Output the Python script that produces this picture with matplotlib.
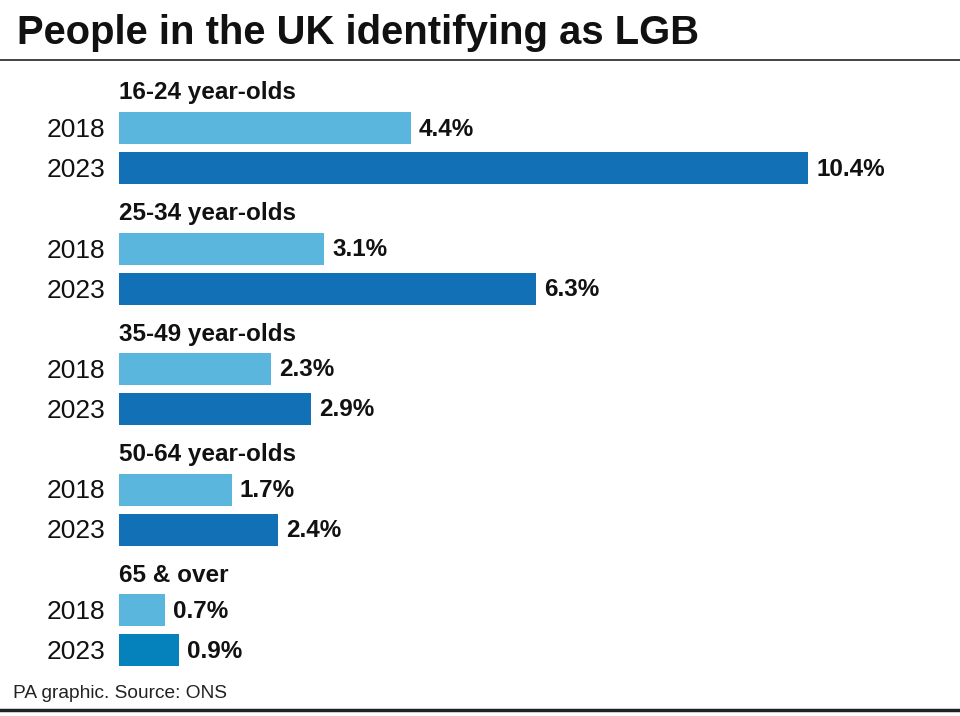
import matplotlib
matplotlib.use("Agg")
import matplotlib.pyplot as plt
from matplotlib.lines import Line2D

groups = ["16-24 year-olds", "25-34 year-olds", "35-49 year-olds", "50-64 year-olds", "65 & over"]
years = ["2018", "2023"]
values_2018 = [4.4, 3.1, 2.3, 1.7, 0.7]
values_2023 = [10.4, 6.3, 2.9, 2.4, 0.9]

c2018 = "#5BB6DE"
c2023 = "#1271B6"
c2023_last = "#0581BC"

plt.rcParams['font.family'] = ['Liberation Sans', 'DejaVu Sans']

W, H = 960, 716
fig = plt.figure(figsize=(W / 100, H / 100), dpi=100)

x0 = 119
scale = 66.25  # px per percent
ax = fig.add_axes([x0 / W, 0, (W - x0) / W, 1])
ax.set_xlim(0, (W - x0) / scale)
ax.set_ylim(H, 0)
ax.axis("off")

step = 120.5
bar_h = 32
for g, name in enumerate(groups):
    base = g * step
    y18 = 128 + base
    y23 = 168 + base
    col23 = c2023_last if g == len(groups) - 1 else c2023
    ax.barh(y18, values_2018[g], height=bar_h, color=c2018)
    ax.barh(y23, values_2023[g], height=bar_h, color=col23)
    ax.text(0, 93 + base, name, fontsize=17.5, fontweight="bold", va="center", ha="left", color="#111111")
    for y, v, yr in [(y18, values_2018[g], years[0]), (y23, values_2023[g], years[1])]:
        ax.text(v + 8 / scale, y + 1, f"{v:.1f}%", fontsize=17.5, fontweight="bold",
                va="center", ha="left", color="#111111")
        ax.text(-14 / scale, y + 2, yr, fontsize=19, va="center", ha="right", color="#111111")

fig.text(17 / W, 1 - 33 / H, "People in the UK identifying as LGB", fontsize=28.8,
         fontweight="bold", va="center", ha="left", color="#111111")
fig.text(13 / W, 1 - 694 / H, "PA graphic. Source: ONS", fontsize=13.8,
         va="center", ha="left", color="#222222")

fig.add_artist(Line2D([0, 1], [1 - 60 / H, 1 - 60 / H], color="#222222", lw=1.2,
                      transform=fig.transFigure))
fig.add_artist(Line2D([0, 1], [1 - 710 / H, 1 - 710 / H], color="#222222", lw=2.5,
                      transform=fig.transFigure))

fig.savefig("out.png", dpi=100)
